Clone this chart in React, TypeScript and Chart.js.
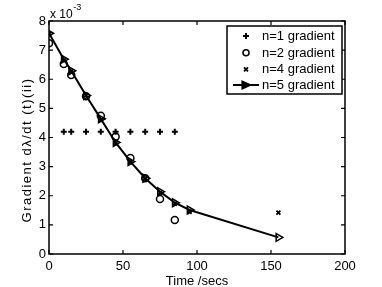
import React, { useEffect, useRef } from "react";
import { Chart, registerables } from "chart.js";

Chart.register(...registerables);

const n1X = [10, 15, 25, 35, 45, 55, 65, 75, 85];
const n1Y = [4.2, 4.2, 4.2, 4.2, 4.2, 4.2, 4.2, 4.2, 4.2];
const n2X = [0, 10, 15, 25, 35, 45, 55, 65, 75, 85];
const n2Y = [7.24, 6.52, 6.15, 5.42, 4.75, 4.03, 3.3, 2.6, 1.89, 1.17];
const n4X = [0, 10, 15, 25, 35, 45, 55, 65, 75, 85, 95, 155];
const n4Y = [7.55, 6.65, 6.27, 5.45, 4.6, 3.8, 3.15, 2.58, 2.1, 1.73, 1.45, 1.42];
const n5X = [0, 10, 15, 25, 35, 45, 55, 65, 75, 85, 95, 155];
const n5Y = [7.58, 6.69, 6.29, 5.44, 4.64, 3.83, 3.17, 2.6, 2.14, 1.76, 1.51, 0.57];
const xTicks = [0, 50, 100, 150, 200];
const yTicks = [0, 1, 2, 3, 4, 5, 6, 7, 8];
const legendLabels = ["n=1 gradient", "n=2 gradient", "n=4 gradient", "n=5 gradient"];
const xTitle = "Time /secs";
const yTitle = "Gradient dλ/dt (t)(ii)";

const FONT = '"Liberation Sans", Arial, Helvetica, sans-serif';

const toPts = (xs: number[], ys: number[]) => xs.map((x, i) => ({ x, y: ys[i] }));

const framePlugin = {
  id: "framePlugin",
  afterDraw(chart: any) {
    const { ctx, chartArea } = chart;
    const { left, right, top, bottom } = chartArea;
    const xs = chart.scales.x;
    const ys = chart.scales.y;
    ctx.save();
    ctx.strokeStyle = "#000";
    ctx.lineWidth = 1.5;
    ctx.strokeRect(left, top, right - left, bottom - top);
    const tl = 4;
    ctx.lineWidth = 1.2;
    ctx.beginPath();
    xTicks.forEach((v) => {
      const px = xs.getPixelForValue(v);
      ctx.moveTo(px, bottom);
      ctx.lineTo(px, bottom - tl);
      ctx.moveTo(px, top);
      ctx.lineTo(px, top + tl);
    });
    yTicks.forEach((v) => {
      const py = ys.getPixelForValue(v);
      ctx.moveTo(left, py);
      ctx.lineTo(left + tl, py);
      ctx.moveTo(right, py);
      ctx.lineTo(right - tl, py);
    });
    ctx.stroke();

    // exponent label
    ctx.fillStyle = "#000";
    ctx.textBaseline = "alphabetic";
    ctx.textAlign = "left";
    ctx.font = `12px ${FONT}`;
    ctx.fillText("x 10", left + 1, 18);
    const w = ctx.measureText("x 10").width;
    ctx.font = `9px ${FONT}`;
    ctx.fillText("-3", left + 1 + w + 0.5, 10);

    // titles
    ctx.font = `13px ${FONT}`;
    ctx.textAlign = "center";
    ctx.textBaseline = "middle";
    ctx.fillText(xTitle, (left + right) / 2, 281);
    ctx.save();
    ctx.translate(27, 150);
    ctx.rotate(-Math.PI / 2);
    (ctx as any).letterSpacing = "1.5px";
    ctx.fillText(yTitle, 0, 0);
    (ctx as any).letterSpacing = "0px";
    ctx.restore();

    // legend
    const bx = 227, by = 26, bw = 115, bh = 68;
    ctx.fillStyle = "#fff";
    ctx.fillRect(bx, by, bw, bh);
    ctx.lineWidth = 1.5;
    ctx.strokeStyle = "#000";
    ctx.strokeRect(bx, by, bw, bh);
    const rows = [36, 52.7, 69.3, 85];
    const mx = 246;
    ctx.fillStyle = "#000";
    ctx.font = `13px ${FONT}`;
    ctx.textAlign = "left";
    ctx.textBaseline = "middle";
    legendLabels.forEach((lab, i) => {
      const y = rows[i];
      ctx.fillText(lab, 262, y + 0.5);
      ctx.beginPath();
      if (i === 0) {
        ctx.lineWidth = 2;
        ctx.moveTo(mx - 3, y);
        ctx.lineTo(mx + 3, y);
        ctx.moveTo(mx, y - 3);
        ctx.lineTo(mx, y + 3);
        ctx.stroke();
      } else if (i === 1) {
        ctx.lineWidth = 1.5;
        ctx.arc(mx, y, 3, 0, Math.PI * 2);
        ctx.stroke();
      } else if (i === 2) {
        ctx.lineWidth = 1.8;
        ctx.moveTo(mx - 2, y - 2);
        ctx.lineTo(mx + 2, y + 2);
        ctx.moveTo(mx + 2, y - 2);
        ctx.lineTo(mx - 2, y + 2);
        ctx.stroke();
      } else {
        ctx.lineWidth = 2;
        ctx.moveTo(233, y);
        ctx.lineTo(259, y);
        ctx.stroke();
        ctx.beginPath();
        ctx.moveTo(mx - 4, y - 4);
        ctx.lineTo(mx + 5, y);
        ctx.lineTo(mx - 4, y + 4);
        ctx.closePath();
        ctx.fill();
        ctx.lineWidth = 1.2;
        ctx.stroke();
      }
    });
    ctx.restore();
  },
};

export default function App() {
  const ref = useRef<HTMLCanvasElement | null>(null);
  useEffect(() => {
    document.body.style.margin = "0";
    const canvas = ref.current;
    if (!canvas) return;
    const chart = new Chart(canvas, {
      type: "scatter",
      data: {
        datasets: [
          {
            label: legendLabels[3],
            data: toPts(n5X, n5Y),
            showLine: true,
            borderColor: "#000",
            backgroundColor: "rgba(0,0,0,0)",
            borderWidth: 2,
            pointStyle: "triangle",
            rotation: 90,
            pointRadius: 4.5,
            pointBorderWidth: 1.5,
            pointBorderColor: "#000",
            pointBackgroundColor: "rgba(0,0,0,0)",
            tension: 0,
            order: 4,
          } as any,
          {
            label: legendLabels[0],
            data: toPts(n1X, n1Y),
            showLine: false,
            pointStyle: "cross",
            pointRadius: 3,
            pointBorderWidth: 2,
            pointBorderColor: "#000",
            borderColor: "#000",
            order: 1,
          } as any,
          {
            label: legendLabels[1],
            data: toPts(n2X, n2Y),
            showLine: false,
            pointStyle: "circle",
            pointRadius: 3.5,
            pointBorderWidth: 1.5,
            pointBorderColor: "#000",
            pointBackgroundColor: "rgba(0,0,0,0)",
            borderColor: "#000",
            order: 2,
          } as any,
          {
            label: legendLabels[2],
            data: toPts(n4X, n4Y),
            showLine: false,
            pointStyle: "crossRot",
            pointRadius: 2.8,
            pointBorderWidth: 1.8,
            pointBorderColor: "#000",
            borderColor: "#000",
            order: 3,
          } as any,
        ],
      },
      options: {
        animation: false,
        responsive: false,
        maintainAspectRatio: false,
        layout: { padding: { top: 21, right: 37, left: 0, bottom: 0 } },
        plugins: { legend: { display: false }, tooltip: { enabled: false } },
        scales: {
          x: {
            type: "linear",
            min: 0,
            max: 200,
            afterFit: (s: any) => {
              s.height = 33;
            },
            afterBuildTicks: (s: any) => {
              s.ticks = xTicks.map((v) => ({ value: v }));
            },
            grid: { display: false, drawTicks: false },
            border: { display: false },
            ticks: { color: "#000", padding: 5, font: { family: FONT, size: 13 }, maxRotation: 0 },
          },
          y: {
            type: "linear",
            min: 0,
            max: 8,
            afterFit: (s: any) => {
              s.width = 49;
            },
            afterBuildTicks: (s: any) => {
              s.ticks = yTicks.map((v) => ({ value: v }));
            },
            grid: { display: false, drawTicks: false },
            border: { display: false },
            ticks: { color: "#000", padding: 3, font: { family: FONT, size: 13 } },
          },
        },
      } as any,
      plugins: [framePlugin],
    });
    return () => chart.destroy();
  }, []);
  return (
    <div style={{ width: 382, height: 287, background: "#fff" }}>
      <canvas ref={ref} width={382} height={287} style={{ display: "block" }} />
    </div>
  );
}
